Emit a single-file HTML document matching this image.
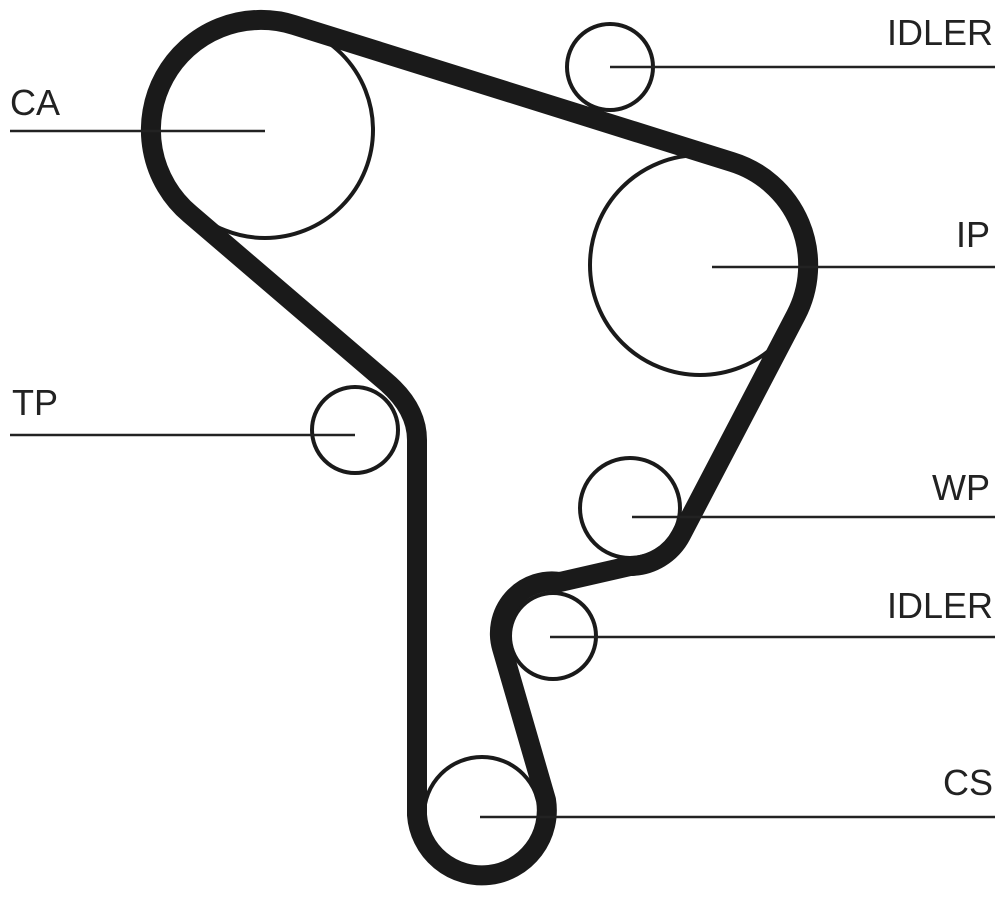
<!DOCTYPE html>
<html><head><meta charset="utf-8"><style>
html,body{margin:0;padding:0;background:#fff;}
svg{display:block;}
text{font-family:"Liberation Sans",sans-serif;font-size:36px;fill:#222;}
</style></head><body>
<svg width="1000" height="904" viewBox="0 0 1000 904" xmlns="http://www.w3.org/2000/svg">
<g fill="none" stroke="#1a1a1a" stroke-width="4">
<circle cx="265" cy="130" r="108"/>
<circle cx="610" cy="67" r="43"/>
<circle cx="700" cy="265" r="110"/>
<circle cx="355" cy="430" r="43"/>
<circle cx="630" cy="508" r="50"/>
<circle cx="553" cy="636" r="43"/>
<circle cx="482" cy="815" r="58"/>
</g>
<path d="M294,25 L732,162 A108,108 0 0 1 796,315 L681,535 A58,58 0 0 1 630,566 L560,582 A52,52 0 0 0 502,648 L546,800 A65,65 0 1 1 417,815 L417,440 Q417,408 385,381 L190,214 A110,110 0 0 1 294,25 Z" fill="none" stroke="#1a1a1a" stroke-width="20" stroke-linejoin="round"/>
<g stroke="#222" stroke-width="2.5">
<line x1="10" y1="131" x2="265" y2="131"/>
<line x1="610" y1="67" x2="995" y2="67"/>
<line x1="712" y1="267" x2="995" y2="267"/>
<line x1="10" y1="435" x2="355" y2="435"/>
<line x1="632" y1="517" x2="995" y2="517"/>
<line x1="550" y1="637" x2="995" y2="637"/>
<line x1="480" y1="817" x2="995" y2="817"/>
</g>
<text x="10" y="115">CA</text>
<text x="993" y="45" text-anchor="end">IDLER</text>
<text x="990" y="247" text-anchor="end">IP</text>
<text x="12" y="415">TP</text>
<text x="990" y="500" text-anchor="end">WP</text>
<text x="993" y="618" text-anchor="end">IDLER</text>
<text x="993" y="795" text-anchor="end">CS</text>
</svg>
</body></html>
